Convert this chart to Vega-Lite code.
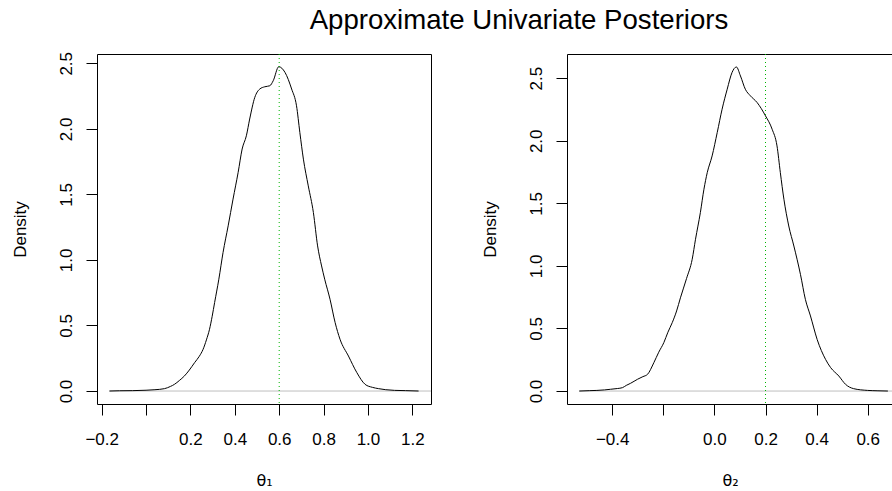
{
  "$schema": "https://vega.github.io/schema/vega-lite/v6.json",
  "padding": {"left": 10, "top": 6, "right": 0, "bottom": 0},
  "datasets": {
    "d1": [
      {"x": -0.165, "y": 0.0}, {"x": -0.12, "y": 0.002}, {"x": -0.06, "y": 0.003}, {"x": 0.0, "y": 0.006}, {"x": 0.04, "y": 0.01}, {"x": 0.083, "y": 0.018}, {"x": 0.11, "y": 0.035}, {"x": 0.128, "y": 0.051}, {"x": 0.15, "y": 0.08}, {"x": 0.173, "y": 0.115}, {"x": 0.195, "y": 0.16}, {"x": 0.219, "y": 0.217}, {"x": 0.24, "y": 0.265}, {"x": 0.257, "y": 0.318}, {"x": 0.272, "y": 0.39}, {"x": 0.286, "y": 0.471}, {"x": 0.298, "y": 0.57}, {"x": 0.309, "y": 0.675}, {"x": 0.328, "y": 0.853}, {"x": 0.347, "y": 1.057}, {"x": 0.37, "y": 1.26}, {"x": 0.392, "y": 1.464}, {"x": 0.415, "y": 1.668}, {"x": 0.433, "y": 1.846}, {"x": 0.452, "y": 1.947}, {"x": 0.467, "y": 2.075}, {"x": 0.49, "y": 2.24}, {"x": 0.5125, "y": 2.304}, {"x": 0.535, "y": 2.321}, {"x": 0.558, "y": 2.329}, {"x": 0.573, "y": 2.367}, {"x": 0.598, "y": 2.474}, {"x": 0.626, "y": 2.431}, {"x": 0.656, "y": 2.304}, {"x": 0.678, "y": 2.176}, {"x": 0.693, "y": 1.973}, {"x": 0.709, "y": 1.769}, {"x": 0.731, "y": 1.565}, {"x": 0.754, "y": 1.362}, {"x": 0.773, "y": 1.107}, {"x": 0.791, "y": 0.954}, {"x": 0.805, "y": 0.853}, {"x": 0.829, "y": 0.7}, {"x": 0.852, "y": 0.522}, {"x": 0.874, "y": 0.395}, {"x": 0.912, "y": 0.267}, {"x": 0.95, "y": 0.14}, {"x": 0.987, "y": 0.051}, {"x": 1.02, "y": 0.028}, {"x": 1.048, "y": 0.018}, {"x": 1.08, "y": 0.01}, {"x": 1.12, "y": 0.005}, {"x": 1.17, "y": 0.003}, {"x": 1.228, "y": 0.0}
    ],
    "d2": [
      {"x": -0.529, "y": 0.0}, {"x": -0.49, "y": 0.003}, {"x": -0.46, "y": 0.005}, {"x": -0.43, "y": 0.009}, {"x": -0.407, "y": 0.014}, {"x": -0.38, "y": 0.02}, {"x": -0.36, "y": 0.027}, {"x": -0.345, "y": 0.045}, {"x": -0.328, "y": 0.062}, {"x": -0.301, "y": 0.094}, {"x": -0.28, "y": 0.115}, {"x": -0.262, "y": 0.133}, {"x": -0.237, "y": 0.227}, {"x": -0.218, "y": 0.31}, {"x": -0.198, "y": 0.387}, {"x": -0.182, "y": 0.47}, {"x": -0.165, "y": 0.547}, {"x": -0.148, "y": 0.64}, {"x": -0.133, "y": 0.745}, {"x": -0.109, "y": 0.9}, {"x": -0.087, "y": 1.053}, {"x": -0.074, "y": 1.213}, {"x": -0.055, "y": 1.426}, {"x": -0.041, "y": 1.613}, {"x": -0.028, "y": 1.746}, {"x": -0.009, "y": 1.879}, {"x": 0.011, "y": 2.066}, {"x": 0.03, "y": 2.252}, {"x": 0.05, "y": 2.412}, {"x": 0.069, "y": 2.546}, {"x": 0.086, "y": 2.59}, {"x": 0.102, "y": 2.518}, {"x": 0.121, "y": 2.412}, {"x": 0.141, "y": 2.359}, {"x": 0.167, "y": 2.306}, {"x": 0.2, "y": 2.199}, {"x": 0.226, "y": 2.092}, {"x": 0.245, "y": 1.959}, {"x": 0.258, "y": 1.746}, {"x": 0.272, "y": 1.533}, {"x": 0.291, "y": 1.319}, {"x": 0.311, "y": 1.159}, {"x": 0.337, "y": 0.93}, {"x": 0.356, "y": 0.733}, {"x": 0.376, "y": 0.6}, {"x": 0.402, "y": 0.413}, {"x": 0.435, "y": 0.253}, {"x": 0.455, "y": 0.187}, {"x": 0.487, "y": 0.12}, {"x": 0.513, "y": 0.054}, {"x": 0.545, "y": 0.019}, {"x": 0.6, "y": 0.005}, {"x": 0.64, "y": 0.002}, {"x": 0.679, "y": 0.0}
    ],
    "zero1": [{"x": -0.165, "y": 0}, {"x": 1.284, "y": 0}],
    "zero2": [{"x": -0.529, "y": 0}, {"x": 0.699, "y": 0}],
    "v1": [{"x": 0.6}],
    "v2": [{"x": 0.2}]
  },
  "hconcat": [
    {
      "width": 334,
      "height": 350,
      "layer": [
        {
          "data": {"name": "zero1"},
          "mark": {"type": "line", "color": "#BEBEBE", "strokeWidth": 1},
          "encoding": {
            "x": {"field": "x", "type": "quantitative", "scale": {"domain": [-0.221, 1.284], "nice": false, "zero": false},
              "axis": {"values": [-0.2, 0, 0.2, 0.4, 0.6, 0.8, 1, 1.2], "format": ".1f", "labelExpr": "datum.value == 0 ? '' : datum.label", "title": "θ₁", "titleFont": "DejaVu Sans", "titleFontSize": 16, "titleY": 81, "titleBaseline": "alphabetic", "labelBaseline": "alphabetic", "labelPadding": 29, "domain": false, "labelOverlap": false, "labelFlush": false}},
            "y": {"field": "y", "type": "quantitative", "scale": {"domain": [-0.099, 2.571], "nice": false, "zero": false},
              "axis": {"values": [0, 0.5, 1, 1.5, 2, 2.5], "format": ".1f", "labelAngle": 270, "labelAlign": "center", "labelBaseline": "alphabetic", "labelPadding": 15, "title": "Density", "titleX": -72, "titleAngle": 270, "titleBaseline": "alphabetic", "domain": false, "labelOverlap": false, "labelFlush": false}}
          }
        },
        {
          "data": {"name": "d1"},
          "mark": {"type": "line", "color": "black", "strokeWidth": 1, "interpolate": "monotone"},
          "encoding": {"x": {"field": "x", "type": "quantitative"}, "y": {"field": "y", "type": "quantitative"}}
        },
        {
          "data": {"name": "v1"},
          "mark": {"type": "rule", "color": "#00B400", "strokeWidth": 1, "strokeDash": [1, 3]},
          "encoding": {"x": {"field": "x", "type": "quantitative"}}
        }
      ]
    },
    {
      "width": 326,
      "height": 350,
      "view": {"stroke": null},
      "resolve": {"axis": {"x": "independent"}},
      "layer": [
        {
          "data": {"name": "zero2"},
          "mark": {"type": "line", "color": "#BEBEBE", "strokeWidth": 1},
          "encoding": {
            "x": {"field": "x", "type": "quantitative", "scale": {"domain": [-0.577, 0.699], "nice": false, "zero": false},
              "axis": {"orient": "top", "labels": false, "ticks": false, "title": "Approximate Univariate Posteriors", "titleFontSize": 27.6, "titleX": -48.5, "titleY": -26, "titleAlign": "center", "titleBaseline": "alphabetic", "titleAngle": 0, "domain": true, "grid": false}},
            "y": {"field": "y", "type": "quantitative", "scale": {"domain": [-0.1036, 2.6936], "nice": false, "zero": false},
              "axis": {"values": [0, 0.5, 1, 1.5, 2, 2.5], "format": ".1f", "labelAngle": 270, "labelAlign": "center", "labelBaseline": "alphabetic", "labelPadding": 15, "title": "Density", "titleX": -72, "titleAngle": 270, "titleBaseline": "alphabetic", "domain": true, "labelOverlap": false, "labelFlush": false}}
          }
        },
        {
          "data": {"name": "d2"},
          "mark": {"type": "line", "color": "black", "strokeWidth": 1, "interpolate": "monotone"},
          "encoding": {
            "x": {"field": "x", "type": "quantitative",
              "axis": {"values": [-0.4, -0.2, 0, 0.2, 0.4, 0.6], "format": ".1f", "labelExpr": "datum.value == -0.2 ? '' : datum.label", "title": "θ₂", "titleFont": "DejaVu Sans", "titleFontSize": 16, "titleY": 81, "titleBaseline": "alphabetic", "labelBaseline": "alphabetic", "labelPadding": 29, "domain": true, "labelOverlap": false, "labelFlush": false}},
            "y": {"field": "y", "type": "quantitative"}
          }
        },
        {
          "data": {"name": "v2"},
          "mark": {"type": "rule", "color": "#00B400", "strokeWidth": 1, "strokeDash": [1, 3]},
          "encoding": {"x": {"field": "x", "type": "quantitative", "axis": null}}
        }
      ]
    }
  ],
  "spacing": 136,
  "bounds": "flush",
  "config": {
    "font": "Liberation Sans",
    "view": {"stroke": "black", "strokeWidth": 1},
    "axis": {"labelFont": "Liberation Sans", "labelFontSize": 17, "labelColor": "black", "titleFont": "Liberation Sans", "titleFontSize": 17, "titleFontWeight": "normal", "titleColor": "black", "tickColor": "black", "tickSize": 11, "tickWidth": 1, "domainColor": "black", "domainWidth": 1, "grid": false}
  }
}
